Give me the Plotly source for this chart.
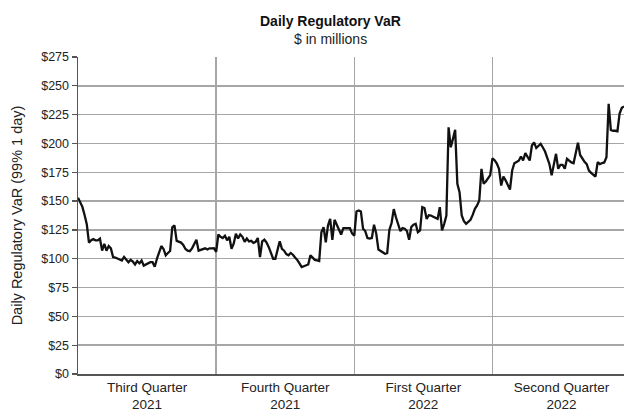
import plotly.graph_objects as go

# Daily regulatory VaR, $ millions, one value per trading day (Jul 2021 - Jun 2022)
var_values = [
    153, 149, 145, 138, 130, 114, 116, 117, 116, 116,
    117.5, 107, 113, 107, 111, 109, 101.4, 101, 100, 99.5,
    98.5, 101.5, 99.5, 97, 99, 97.5, 95, 98, 96, 98.5,
    94, 95, 95.5, 97, 97, 93, 100, 106, 111, 108.5,
    103, 105, 106.7, 127.3, 129, 115.5, 115, 114, 112, 108.5,
    107, 106.5, 109, 113, 116.4, 107, 107.5, 108, 109, 108,
    109, 109, 109.2, 106, 121, 119, 118, 120, 116, 119,
    108.6, 113, 121.6, 117.5, 121, 119, 114.6, 117.5, 115, 115.5,
    113.7, 114.6, 118, 101.4, 115, 116.5, 114, 110, 104, 100,
    100, 107, 115.2, 108.5, 107, 104, 103, 105, 103.5, 101,
    99, 96, 92.7, 93.5, 94, 95, 103, 100.5, 99, 98.5,
    98, 123, 127.3, 114.3, 128.8, 134.6, 116.4, 133.8, 130, 126,
    121, 126.5, 126.5, 126.5, 126.5, 122, 120, 141, 141.8, 141,
    126, 124, 118, 117.5, 118, 129.5, 122, 108, 106.5, 105.5,
    104.3, 104.8, 125, 131, 143, 136, 130, 124, 126.5, 126,
    124, 116.4, 127.5, 129.5, 130.3, 123, 124.5, 144.7, 144, 134.5,
    137.8, 137.5, 136.5, 135.5, 134.6, 144.7, 124.5, 130.3, 137.5, 214,
    196.7, 204, 211.8, 165, 157.7, 137.5, 132.6, 130.3, 132, 133.8,
    138, 143.3, 146.2, 150.5, 178, 165, 167, 169.4, 172.5, 187,
    185.5, 182.5, 178, 163.5, 171.3, 168, 164, 160, 176.5, 182.9,
    184, 185, 188.7, 185.2, 191.6, 188.7, 185.2, 198.2, 201, 196,
    197.5, 199.7, 196.5, 193, 187.5, 182, 172.3, 182.3, 191, 178,
    181.5, 181.5, 178, 186.7, 185, 183.5, 182.9, 191, 200.6, 190,
    186.7, 184, 182, 176.5, 174.5, 172.5, 171.3, 183.8, 182, 183,
    183.5, 188, 234.4, 211.8, 211, 211, 210.6, 226, 231, 232,
]
trading_day = list(range(len(var_values)))

quarter_days = 63
quarter_mid = [31.5, 94.5, 157.5, 220.5]
quarter_labels = ["Third Quarter<br>2021", "Fourth Quarter<br>2021",
                  "First Quarter<br>2022", "Second Quarter<br>2022"]
y_ticks = [0, 25, 50, 75, 100, 125, 150, 175, 200, 225, 250, 275]
y_tick_text = [f"${v}" for v in y_ticks]

FONT = "Liberation Sans, Arial, sans-serif"
GRID = "#a6a6a6"

fig = go.Figure()
fig.add_trace(go.Scatter(
    x=trading_day, y=var_values, mode="lines",
    line=dict(color="#111111", width=2.3),
    showlegend=False, hoverinfo="skip",
))

fig.update_layout(
    width=624, height=412,
    margin=dict(l=78, r=0, t=57, b=38),
    paper_bgcolor="white", plot_bgcolor="white",
    font=dict(family=FONT, color="#222222"),
    annotations=[
        dict(text="<b>Daily Regulatory VaR</b>", xref="paper", yref="paper",
             x=(330 - 78) / 546, y=1 + (57 - 21) / 317, showarrow=False,
             font=dict(size=14, family=FONT, color="#111111"),
             xanchor="center", yanchor="middle"),
        dict(text="$ in millions", xref="paper", yref="paper",
             x=(330 - 78) / 546, y=1 + (57 - 39) / 317, showarrow=False,
             font=dict(size=14, family=FONT, color="#222222"),
             xanchor="center", yanchor="middle"),
    ],
)

fig.update_xaxes(
    range=[0, len(var_values) - 1],
    tickmode="array", tickvals=quarter_mid, ticktext=quarter_labels,
    tickfont=dict(size=13.5, family=FONT, color="#222222"),
    ticks="", showgrid=False, zeroline=False,
    showline=True, linecolor="#555555", linewidth=1.5,
    minor=dict(tick0=0, dtick=quarter_days, showgrid=True,
               gridcolor=GRID, gridwidth=1.5, ticks=""),
)

fig.update_yaxes(
    range=[0, 275], tickmode="array", tickvals=y_ticks, ticktext=y_tick_text,
    tickfont=dict(size=12.5, family=FONT, color="#222222"),
    ticks="outside", ticklen=5, tickcolor="#555555", tickwidth=1.2,
    showgrid=True, gridcolor=GRID, gridwidth=1.5, zeroline=False,
    showline=True, linecolor="#555555", linewidth=1.5,
    title=dict(text="Daily Regulatory VaR (99% 1 day)",
               font=dict(size=14.5, family=FONT, color="#222222"), standoff=15),
)

fig.write_html(
    "out.html",
    config={"displayModeBar": False, "staticPlot": True},
    post_script="document.body.style.margin='0';document.body.style.overflow='hidden';",
)
